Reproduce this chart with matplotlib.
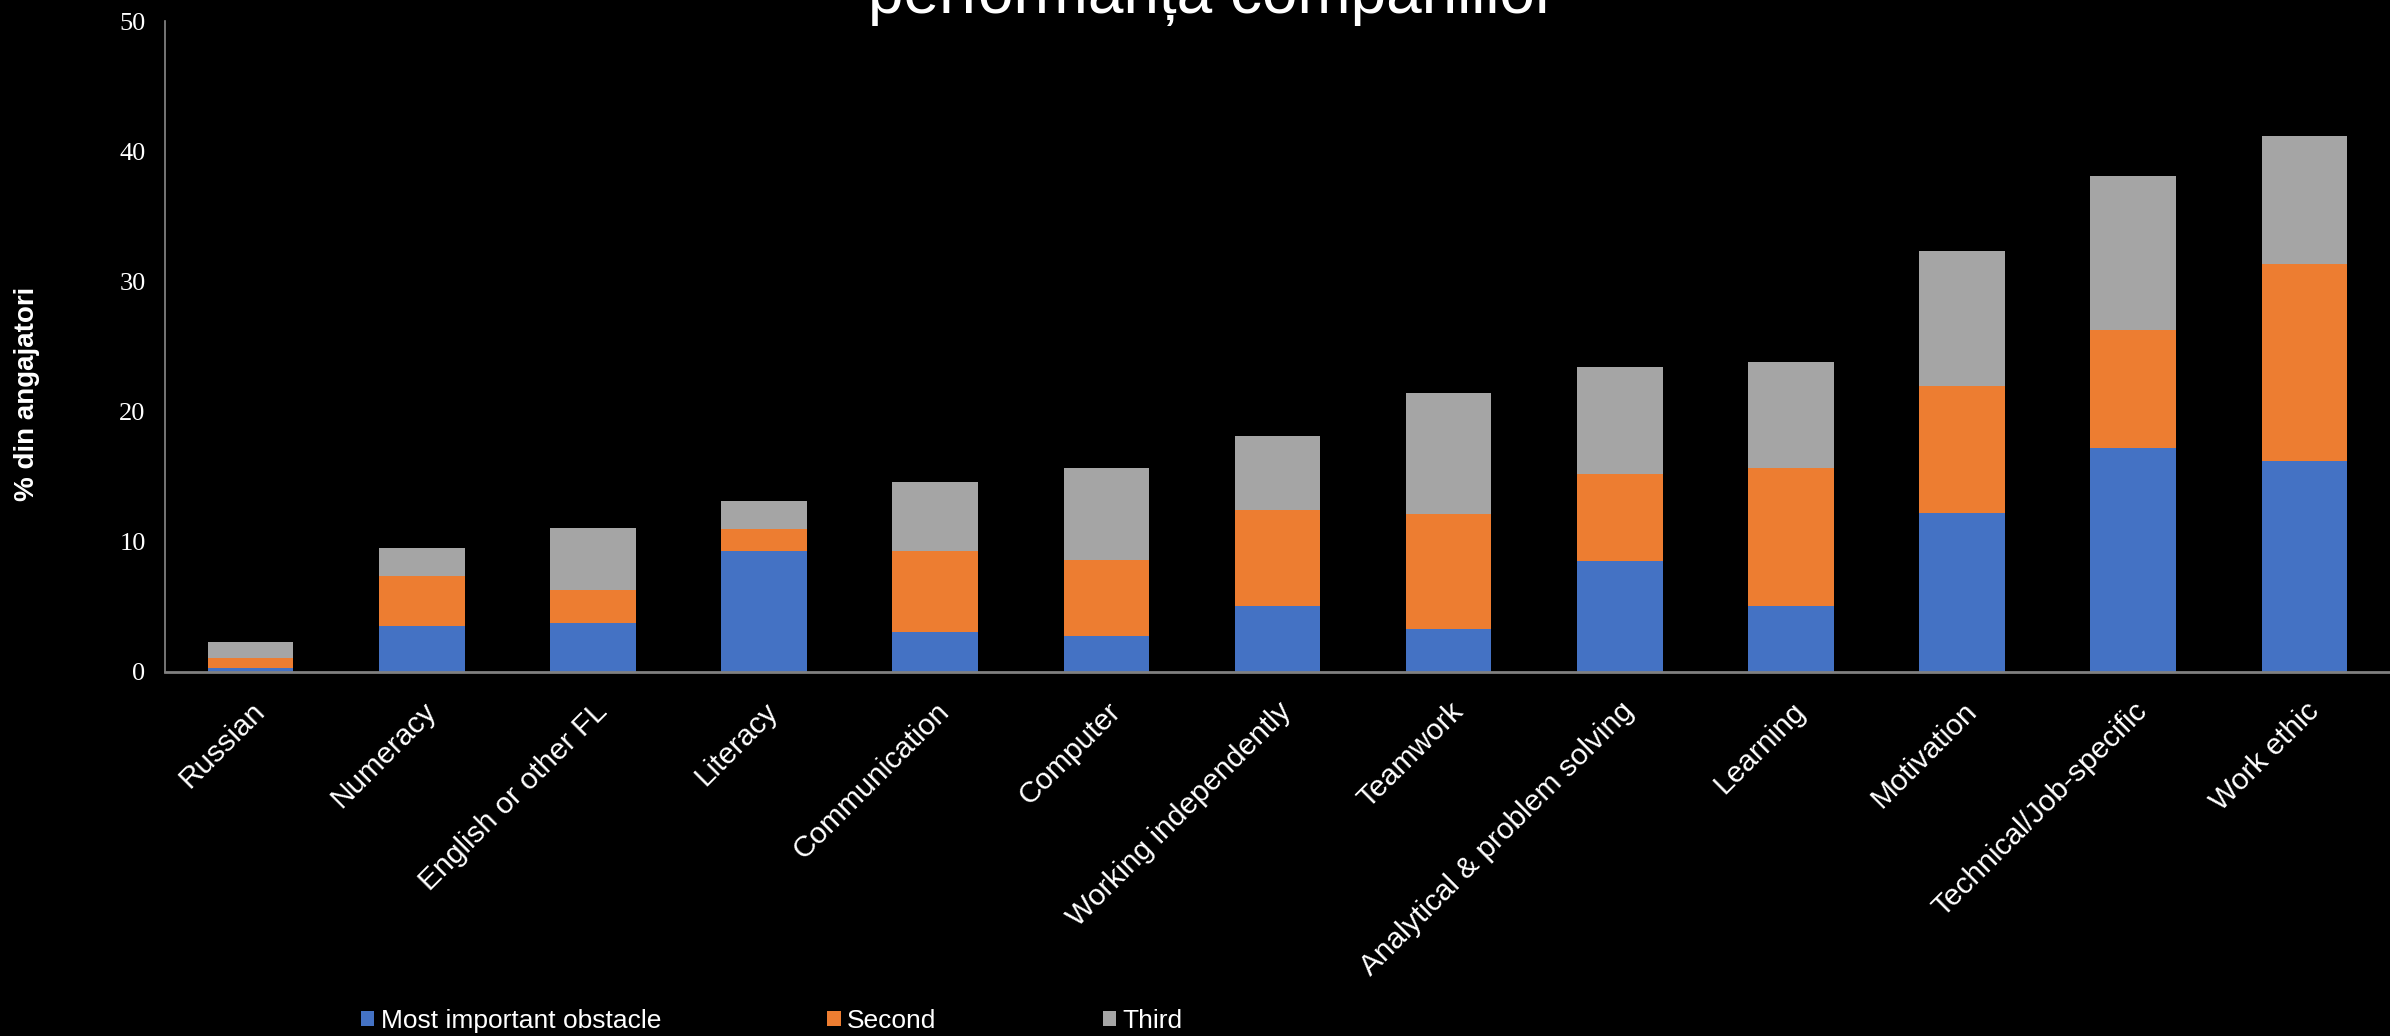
import matplotlib
matplotlib.use("Agg")
import matplotlib.pyplot as plt
import numpy as np

# skills, ordered as in the chart
categories = ["Russian", "Numeracy", "English or other FL", "Literacy", "Communication",
              "Computer", "Working independently", "Teamwork", "Analytical & problem solving",
              "Learning", "Motivation", "Technical/Job-specific", "Work ethic"]

# % of employers, stacked segments
most_important = [0.28, 3.56, 3.76, 9.29, 3.07, 2.79, 5.08, 3.29, 8.52, 5.08, 12.19, 17.24, 16.21]
second = [0.77, 3.81, 2.51, 1.69, 6.22, 5.78, 7.35, 8.81, 6.66, 10.55, 9.75, 9.02, 15.13]
third = [1.23, 2.13, 4.81, 2.12, 5.31, 7.06, 5.67, 9.30, 8.23, 8.19, 10.40, 11.81, 9.82]

series_names = ["Most important obstacle", "Second", "Third"]
colors = ["#4472C4", "#ED7D31", "#A5A5A5"]
yticks = [0, 10, 20, 30, 40, 50]

plt.rcParams['font.family'] = ['Liberation Sans', 'DejaVu Sans']

fig = plt.figure(figsize=(23.9, 10.36), dpi=100, facecolor='black')
ax = fig.add_axes([165 / 2390, 1 - 672 / 1036, 1 - 165 / 2390, (672 - 21) / 1036])
ax.set_facecolor('black')

x = np.arange(len(categories))
bottom = np.zeros(len(categories))
for vals, name, c in zip([most_important, second, third], series_names, colors):
    ax.bar(x, vals, width=0.5, bottom=bottom, color=c, label=name, linewidth=0)
    bottom += np.array(vals)

ax.set_xlim(-0.5, len(categories) - 0.5)
ax.set_ylim(0, 50)
ax.set_yticks(yticks)
ax.set_yticklabels([str(t) for t in yticks], family='Liberation Serif', fontsize=19, color='white')
ax.tick_params(axis='y', length=0, pad=14)
ax.set_xticks(x)
ax.set_xticklabels(categories, rotation=45, ha='right', rotation_mode='anchor',
                   fontsize=21.5, color='white')
ax.tick_params(axis='x', length=0, pad=18)

for s in ['top', 'right']:
    ax.spines[s].set_visible(False)
ax.spines['left'].set_color('#898989')
ax.spines['left'].set_linewidth(1.2)
ax.spines['bottom'].set_color('#808080')
ax.spines['bottom'].set_linewidth(2)

fig.text(27 / 2390, 1 - 394 / 1036, "% din angajatori", rotation=90, ha='center', va='center',
         fontsize=20, fontweight='bold', color='white')

# title is cut off at the top in the original
fig.text(1212 / 2390, 1 - 13 / 1036, "performanța companiilor", ha='center', va='baseline',
         fontsize=46, color='white')

leg = fig.legend(loc='center left', bbox_to_anchor=(361 / 2390, 15 / 1036), ncol=3,
                 frameon=False, fontsize=19, handlelength=0.5, handleheight=0.5,
                 handletextpad=0.25, columnspacing=6.3, borderpad=0, borderaxespad=0)
for t in leg.get_texts():
    t.set_color('white')

fig.savefig("out.png", dpi=100, facecolor='black')
